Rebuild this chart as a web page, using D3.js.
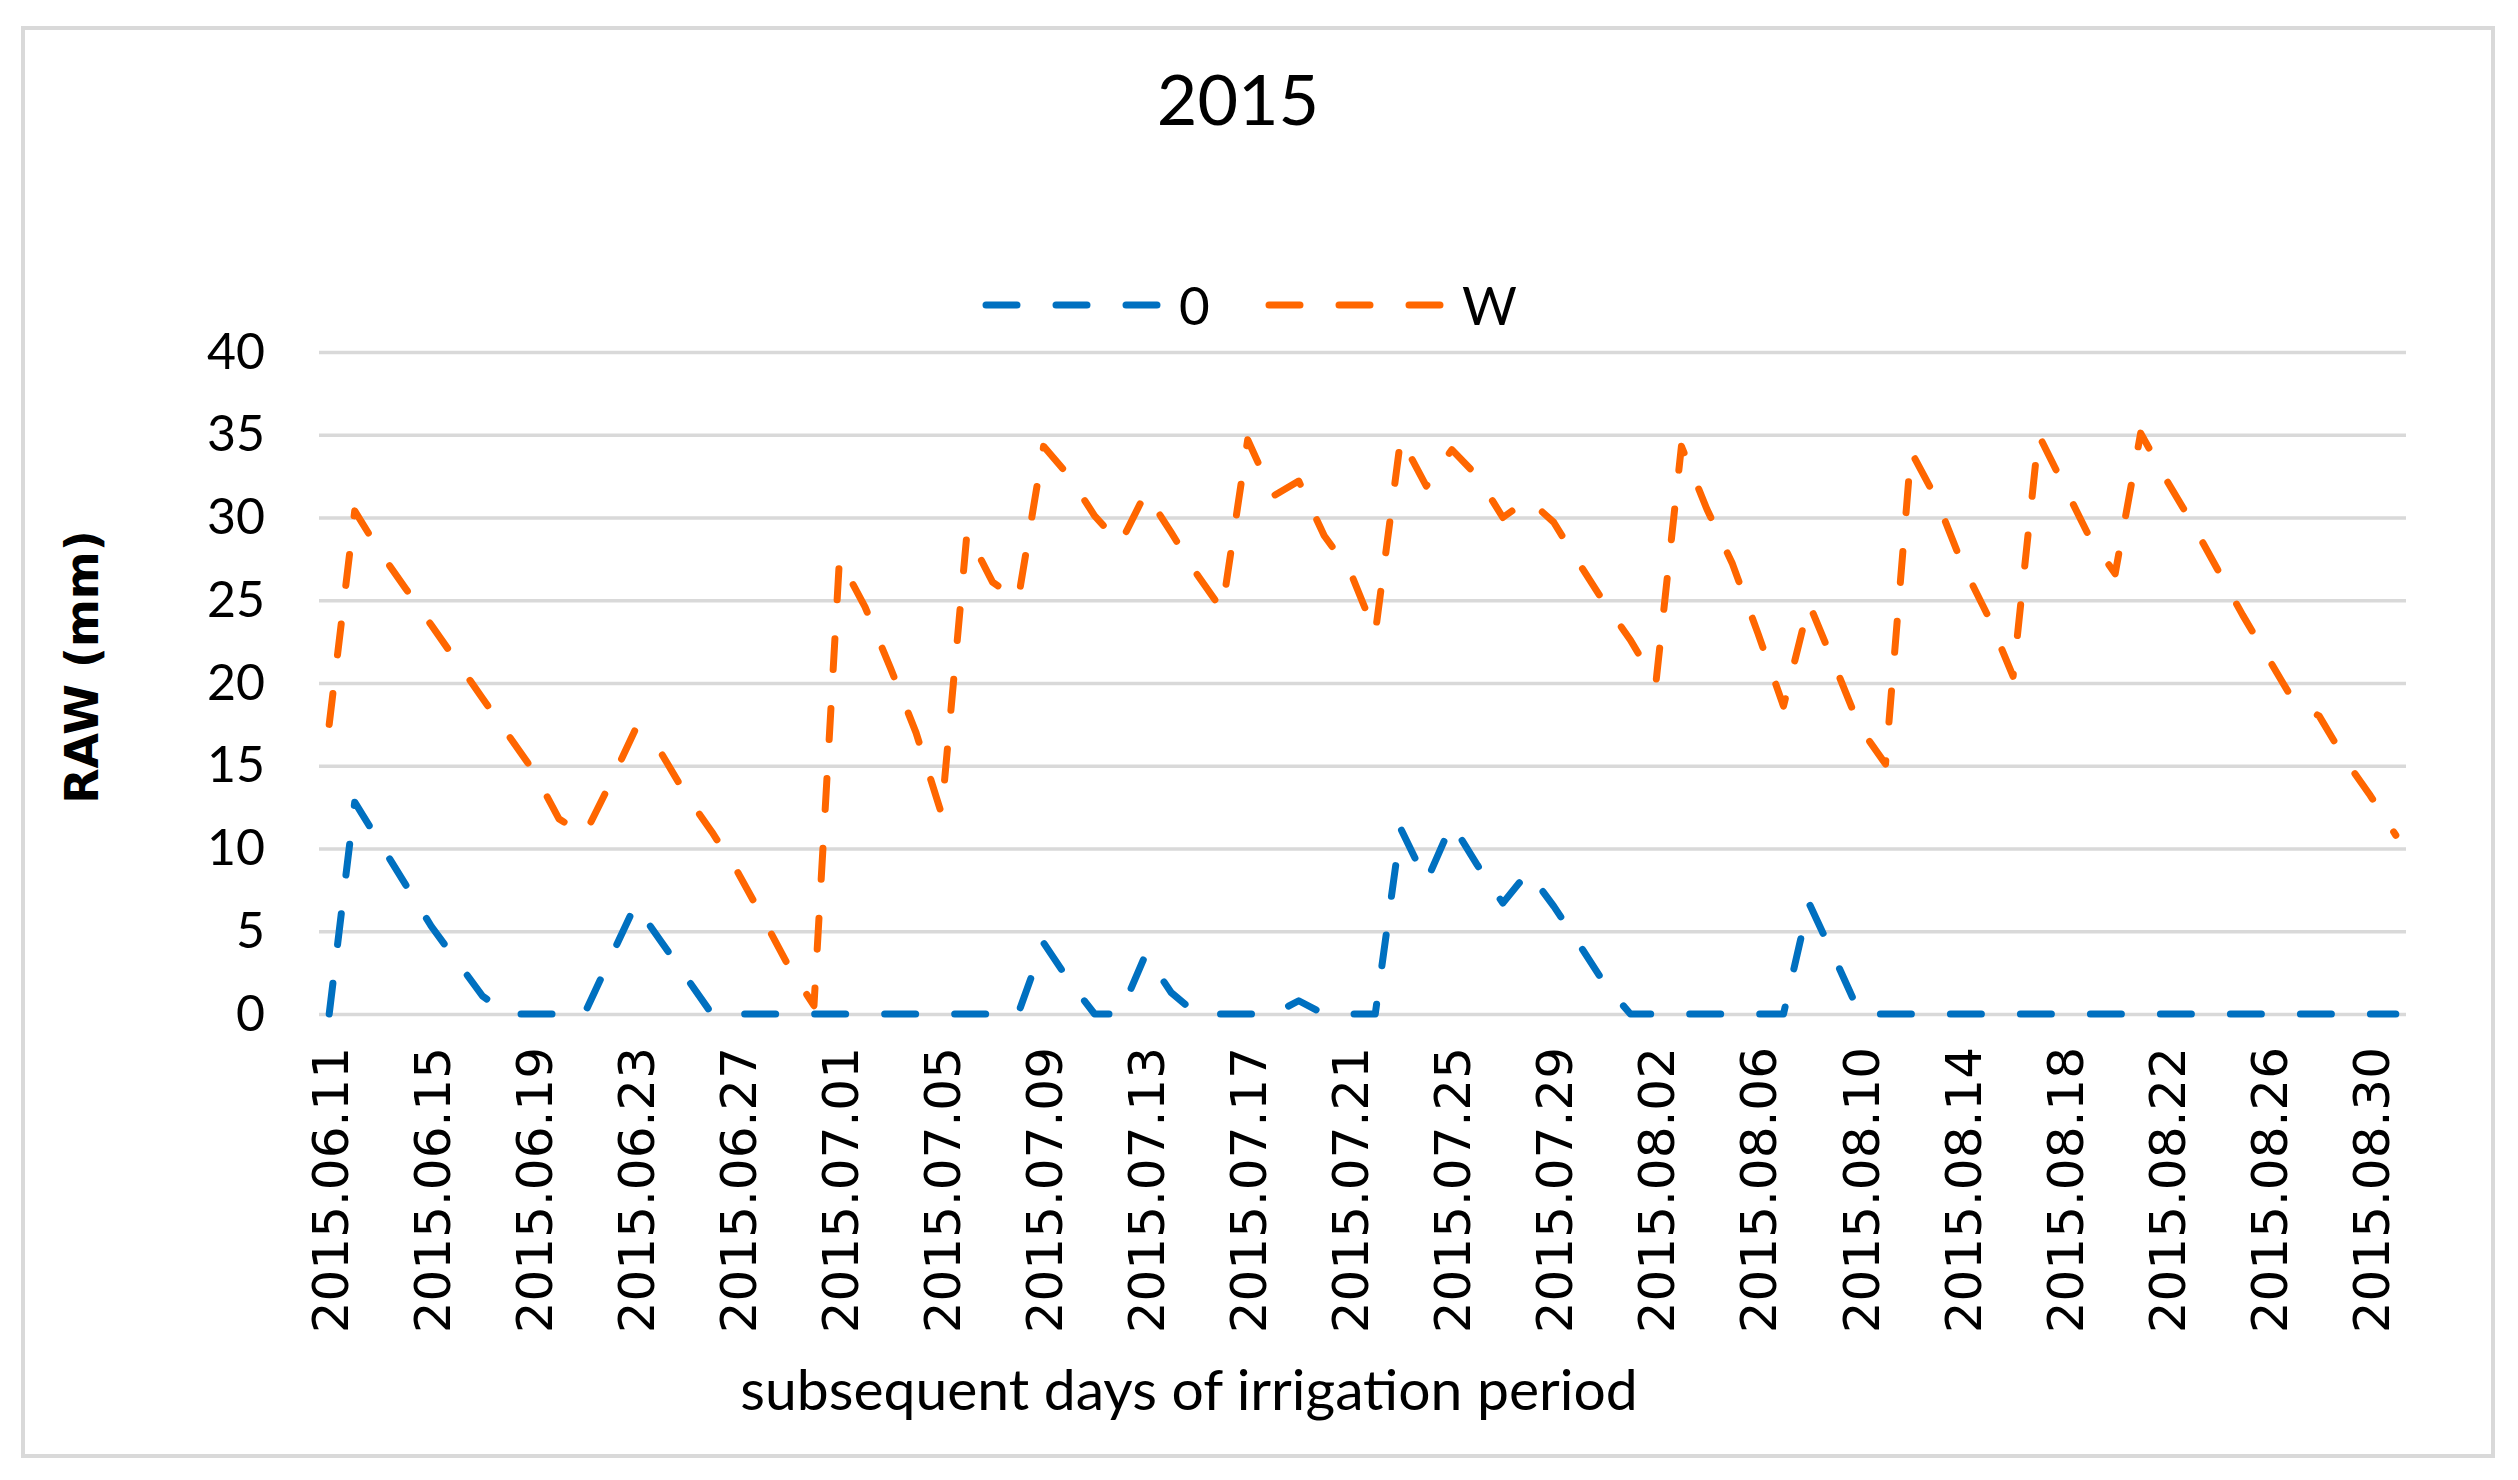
<!DOCTYPE html>
<html>
<head>
<meta charset="utf-8">
<script src="https://cdn.jsdelivr.net/npm/d3@7"></script>
<style>
  body { margin: 0; background: #fff; }
</style>
</head>
<body>
<div id="chart"></div>
<script>
var w = 2518, h = 1480;

// categories: every day of the irrigation period
var days = [
  "2015.06.11","2015.06.12","2015.06.13","2015.06.14","2015.06.15","2015.06.16","2015.06.17","2015.06.18","2015.06.19","2015.06.20",
  "2015.06.21","2015.06.22","2015.06.23","2015.06.24","2015.06.25","2015.06.26","2015.06.27","2015.06.28","2015.06.29","2015.06.30",
  "2015.07.01","2015.07.02","2015.07.03","2015.07.04","2015.07.05","2015.07.06","2015.07.07","2015.07.08","2015.07.09","2015.07.10",
  "2015.07.11","2015.07.12","2015.07.13","2015.07.14","2015.07.15","2015.07.16","2015.07.17","2015.07.18","2015.07.19","2015.07.20",
  "2015.07.21","2015.07.22","2015.07.23","2015.07.24","2015.07.25","2015.07.26","2015.07.27","2015.07.28","2015.07.29","2015.07.30",
  "2015.07.31","2015.08.01","2015.08.02","2015.08.03","2015.08.04","2015.08.05","2015.08.06","2015.08.07","2015.08.08","2015.08.09",
  "2015.08.10","2015.08.11","2015.08.12","2015.08.13","2015.08.14","2015.08.15","2015.08.16","2015.08.17","2015.08.18","2015.08.19",
  "2015.08.20","2015.08.21","2015.08.22","2015.08.23","2015.08.24","2015.08.25","2015.08.26","2015.08.27","2015.08.28","2015.08.29",
  "2015.08.30","2015.08.31"
];

// series "0"
var raw0 = [
  0, 12.8, 10.3, 7.8, 5.3, 3.2, 1.1, 0, 0, 0,
  0, 3.3, 6.6, 4.4, 2.2, 0, 0, 0, 0, 0,
  0, 0, 0, 0, 0, 0, 0, 0, 4.3, 2.0,
  0, 0, 3.6, 1.3, 0, 0, 0, 0, 0.8, 0,
  0, 0, 11.2, 8.0, 11.5, 9.0, 6.7, 8.6, 6.5, 4.2,
  1.8, 0, 0, 0, 0, 0, 0, 0, 6.7, 3.4,
  0, 0, 0, 0, 0, 0, 0, 0, 0, 0,
  0, 0, 0, 0, 0, 0, 0, 0, 0, 0,
  0, 0
];

// series "W"
var rawW = [
  17.5, 30.4, 27.9, 25.7, 23.5, 21.3, 19.1, 16.9, 14.7, 11.8,
  10.8, 13.9, 17.2, 15.8, 13.2, 11.0, 8.6, 5.8, 2.9, 0.5,
  27.5, 24.6, 20.9, 17.0, 12.1, 29.1, 26.1, 25.0, 34.3, 32.5,
  30.1, 28.4, 31.5, 29.1, 26.6, 24.4, 34.7, 31.3, 32.2, 28.9,
  26.8, 23.0, 34.8, 31.9, 34.1, 32.5, 30.0, 31.1, 29.7, 27.2,
  24.8, 22.6, 20.0, 34.3, 30.5, 27.2, 23.0, 18.6, 24.8, 21.1,
  17.3, 15.1, 34.0, 31.1, 27.2, 24.1, 20.4, 35.0, 31.9, 28.8,
  26.6, 35.1, 32.3, 29.7, 26.9, 24.1, 21.5, 18.9, 18.0, 15.4,
  13.2, 10.8
];

var tickLabels = ["2015.06.11","2015.06.15","2015.06.19","2015.06.23","2015.06.27","2015.07.01","2015.07.05",
  "2015.07.09","2015.07.13","2015.07.17","2015.07.21","2015.07.25","2015.07.29","2015.08.02","2015.08.06",
  "2015.08.10","2015.08.14","2015.08.18","2015.08.22","2015.08.26","2015.08.30"];
var yTicks = [0, 5, 10, 15, 20, 25, 30, 35, 40];
var seriesNames = ["0", "W"];
var colors = ["#0070c0", "#ff6600"];

var plotL = 319, plotR = 2406, plotT = 352, plotB = 1014;
var dash = "31,39";

var svg = d3.select("#chart").append("svg").attr("width", w).attr("height", h);

// outer frame
svg.append("rect").attr("x", 23).attr("y", 28).attr("width", 2470).attr("height", 1428)
  .attr("fill", "white").attr("stroke", "#d9d9d9").attr("stroke-width", 4);

var x = d3.scalePoint().domain(days).range([plotL, plotR]).padding(0.4);
var y = d3.scaleLinear().domain([0, 40]).range([plotB, plotT]);

// gridlines + y labels
var yAxis = svg.append("g").attr("transform", "translate(" + plotL + ",0)")
  .call(d3.axisLeft(y).tickValues(yTicks).tickSize(-(plotR - plotL)).tickPadding(54));
yAxis.select(".domain").remove();
yAxis.selectAll(".tick line").attr("stroke", "#d9d9d9").attr("stroke-width", 3.5);
yAxis.selectAll(".tick text").attr("font-family", "Lato").attr("font-size", "50px").attr("fill", "#000");

// x labels
var xAxis = svg.append("g").attr("transform", "translate(0," + plotB + ")")
  .call(d3.axisBottom(x).tickValues(tickLabels).tickSize(0));
xAxis.select(".domain").remove();
xAxis.selectAll(".tick text")
  .attr("font-family", "DejaVu Sans").attr("font-size", "50px").attr("fill", "#000")
  .attr("text-anchor", "end").attr("transform", "rotate(-90)")
  .attr("x", -33).attr("y", 0).attr("dy", "0.36em");

// lines
var line = d3.line().x(function (d, i) { return x(days[i]); }).y(function (d) { return y(d); });
[raw0, rawW].forEach(function (s, k) {
  svg.append("path").datum(s)
    .attr("fill", "none").attr("stroke", colors[k]).attr("stroke-width", 7)
    .attr("stroke-linecap", "round").attr("stroke-linejoin", "round")
    .attr("stroke-dasharray", dash).attr("d", line);
});

// title
svg.append("text").attr("x", 1238).attr("y", 125).attr("text-anchor", "middle")
  .attr("font-family", "Lato").attr("font-size", "70px").attr("fill", "#000").text("2015");

// legend
var legendX = [986, 1269];
seriesNames.forEach(function (n, k) {
  var g = svg.append("g").attr("transform", "translate(" + legendX[k] + ",305)");
  g.append("line").attr("x1", 0).attr("x2", 171).attr("y1", 0).attr("y2", 0)
    .attr("stroke", colors[k]).attr("stroke-width", 7).attr("stroke-linecap", "round")
    .attr("stroke-dasharray", dash);
  g.append("text").attr("x", 193).attr("y", 20).attr("font-family", "Lato")
    .attr("font-size", "53px").attr("fill", "#000").text(n);
});

// axis titles
svg.append("text").attr("transform", "translate(98,667) rotate(-90)").attr("text-anchor", "middle")
  .attr("font-family", "DejaVu Sans").attr("font-weight", "bold").attr("font-size", "46px")
  .attr("fill", "#000").text("RAW (mm)");
svg.append("text").attr("x", 1189).attr("y", 1410).attr("text-anchor", "middle")
  .attr("font-family", "Lato").attr("font-size", "57px").attr("fill", "#000")
  .text("subsequent days of irrigation period");
</script>
</body>
</html>
